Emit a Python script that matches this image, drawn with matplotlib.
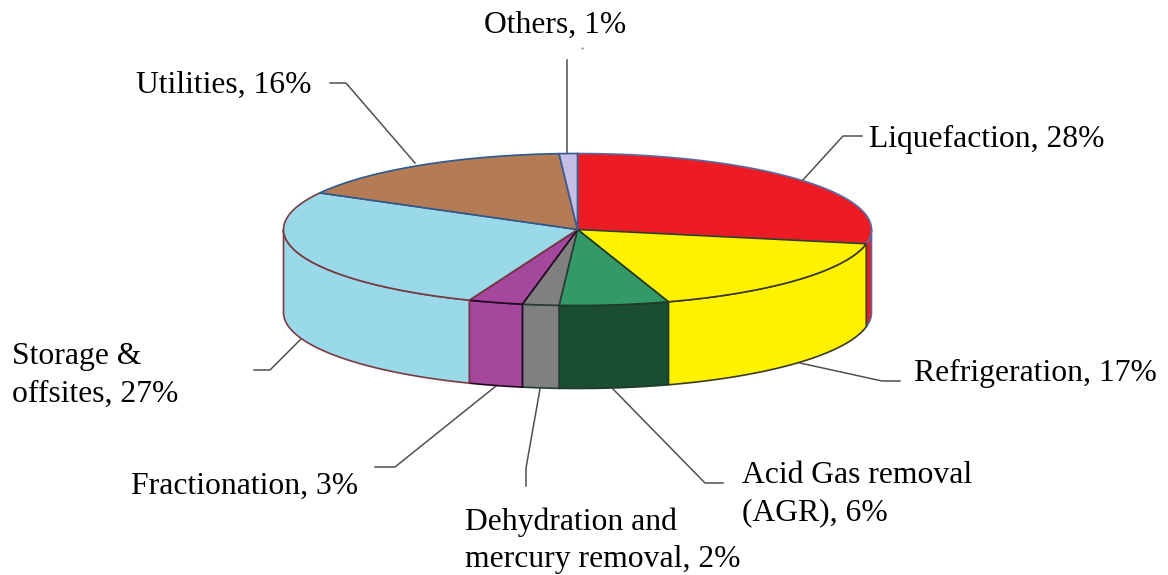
import numpy as np
import matplotlib
matplotlib.use('Agg')
import matplotlib.pyplot as plt

plt.rcParams['font.family'] = ['Liberation Serif', 'DejaVu Serif']

# share of each block, clockwise from 12 o'clock
labels = ['Liquefaction, 28%', 'Refrigeration, 17%', 'Acid Gas removal\n(AGR), 6%',
          'Dehydration and\nmercury removal, 2%', 'Fractionation, 3%',
          'Storage &\noffsites, 27%', 'Utilities, 16%', 'Others, 1%']
shares = [28, 17, 6, 2, 3, 27, 16, 1]

top_colors = ['#ED1C24', '#FFF200', '#339966', '#808080', '#A6479E', '#99D9EA', '#B47B55', '#C5BEE6']
side_colors = ['#ED1C24', '#FFF200', '#1B4D33', '#808080', '#A6479E', '#99D9EA', '#B47B55', '#C5BEE6']
edge_colors = ['#5A6AA0', '#3A3A20', '#1E3A28', '#2A3A3A', '#200820', '#7A3A40', '#2A5A90', '#3A5A90']

# label anchor (left, baseline of the first line)
label_pos = [(869, 147), (914, 381), (742, 483), (465, 530), (131, 494), (12, 364), (136, 93), (484, 33)]

# leader lines
leaders = [
    [(802, 181), (843, 136), (862, 136)],
    [(800, 363), (882, 381), (900, 381)],
    [(613, 389), (705, 483), (723, 483)],
    [(540, 389), (526, 468), (526, 486)],
    [(496, 386), (395, 467), (375, 467)],
    [(301, 339), (270, 370), (254, 370)],
    [(415, 163), (346, 83), (330, 83)],
    [(567, 153), (567, 60)],
]

cx, cy = 577.5, 229.5
rx, ry = 294, 76
depth = 83


def rim(a1, a2, n=60):
    t = np.radians(np.linspace(a1, a2, n))
    return cx + rx * np.cos(t), cy - ry * np.sin(t)


fig = plt.figure(figsize=(11.68, 5.75), dpi=100)
ax = fig.add_axes([0, 0, 1, 1])
ax.set_xlim(0, 1168)
ax.set_ylim(575, 0)
ax.axis('off')

# wedge angles in degrees, going clockwise from the top
ends = 90 - 3.6 * np.cumsum(shares)
starts = np.r_[90, ends[:-1]]

# outer wall, only the front half is seen
for a1, a2, col, ec in zip(starts, ends, side_colors, edge_colors):
    lo = max(a2, -180)
    hi = min(a1, 0)
    if lo >= hi:
        continue
    x, y = rim(hi, lo)
    ax.fill(np.r_[x, x[::-1]], np.r_[y, y[::-1] + depth], color=col, ec=ec, lw=1.2, zorder=2)

# top faces
for a1, a2, col, ec in zip(starts, ends, top_colors, edge_colors):
    x, y = rim(a1, a2)
    ax.fill(np.r_[cx, x], np.r_[cy, y], color=col, ec=ec, lw=1.2, zorder=3)

for pts in leaders:
    xs, ys = zip(*pts)
    ax.plot(xs, ys, color='#505050', lw=1.1, zorder=1)

# small speck under the top label
ax.plot([582], [48], marker='.', ms=1.5, color='#9A9AB0', zorder=1)

for txt, (lx, ly) in zip(labels, label_pos):
    for i, line in enumerate(txt.split('\n')):
        ax.text(lx, ly + i * 37.5, line, fontsize=22.8, color='black', ha='left', va='baseline')

fig.savefig('out.png', dpi=100)
